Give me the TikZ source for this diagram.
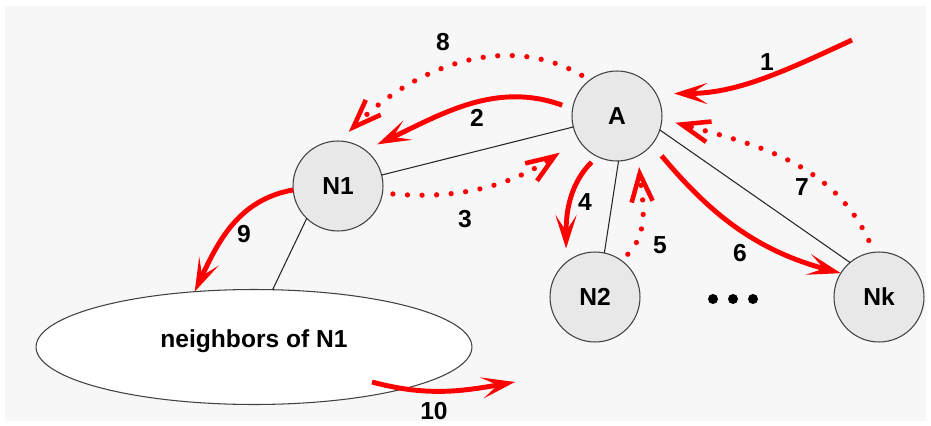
\documentclass[tikz,border=0pt]{standalone}
\usepackage{fontspec}
\setmainfont{Liberation Sans}
\usetikzlibrary{arrows.meta,positioning,shapes.geometric}
\definecolor{panel}{HTML}{F7F7F7}
\definecolor{peerfill}{HTML}{E8E8E8}
\definecolor{msgred}{HTML}{FF0000}
\tikzset{
  every node/.style={font=\fontsize{14}{16}\selectfont\bfseries},
  peer/.style={circle,draw=black!75,fill=peerfill,line width=.6pt,
    minimum size=1.8cm,inner sep=0pt,outer sep=0pt},
  group/.style={ellipse,draw=black!75,fill=white,line width=.6pt,
    minimum width=8.72cm,minimum height=2.3cm,inner sep=0pt,outer sep=0pt,
    text depth=10pt},
  link/.style={draw=black!85,line width=.6pt},
  msg/.style={draw=msgred,line width=2.8pt,
    -{Stealth[length=19pt,width=12pt,inset=9pt]}},
  reply/.style={draw=msgred,line width=3pt,line cap=round,
    dash pattern=on 0pt off 8.3pt,
    -{Straight Barb[length=16pt,width=12pt,line width=2.6pt]}},
  num/.style={inner sep=1pt}}

\begin{document}
\begin{tikzpicture}[x=0.02cm,y=0.02cm]
\useasboundingbox (0,0) rectangle (931,-426);
\fill[panel] (5,-6) rectangle (926,-421);

% peers and the group of N1's neighbours
\node[peer] (A) at (617,-116) {A};
\node[peer] (N1) at (338,-186) {N1};
\node[peer] (N2) at (595,-297) {N2};
\node[peer] (Nk) at (879,-297) {Nk};
\node[group] (nb) at (254,-347) {neighbors of N1};
\coordinate (dots) at (733,-299);
\foreach \d in {-20,0,20} {\fill ([xshift=\d*0.02cm]dots) circle (0.1cm);}

% overlay links
\draw[link] (N1) -- (A);
\draw[link] (A.-88) -- (N2.78);
\draw[link] (A.-18) -- (Nk.130);
\draw[link] (N1.-134) -- (nb.72);

% messages
\coordinate (src) at (852,-40);
\draw[msg,shorten >=.36cm] (src) to[out=205,in=0] (A.30);
\draw[msg,shorten <=.22cm,shorten >=.27cm] (A.171) to[out=160,in=25] (N1.53);
\draw[reply,shorten <=.21cm,shorten >=.46cm] (N1.-9) to[out=-5,in=214] (A.212);
\draw[msg,shorten <=.16cm,shorten >=.28cm] (A.244) to[out=225,in=90] (N2.130);
\draw[reply,shorten <=.18cm,shorten >=.23cm] (N2.54) to[out=45,in=-85] (A.-62);
\draw[msg,shorten <=.3cm] (A.-39) to[out=-50,in=165] (Nk.148);
\draw[reply,shorten <=.26cm,shorten >=.28cm] (Nk.96) to[out=115,in=-15] (A.-4);
\draw[reply,shorten <=.19cm,shorten >=.26cm] (A.127) to[out=150,in=45] (N1.88);
\draw[msg] (N1.185) to[out=190,in=65] (nb.137);
\coordinate (out10) at ([shift={(118,-35)}]nb.center);
\coordinate (far10) at ([shift={(143,0)}]out10);
\draw[msg] (out10) to[out=-15,in=190] (far10);

% step numbers
\foreach \t/\x/\y in {1/767/62,2/477/118,3/465/219,4/585/202,5/660/245,
  6/740/253,7/802/187,8/443/42,9/244/234,10/434/411}
  {\node[num] (lbl\t) at (\x,-\y) {\t};}
\end{tikzpicture}
\end{document}
